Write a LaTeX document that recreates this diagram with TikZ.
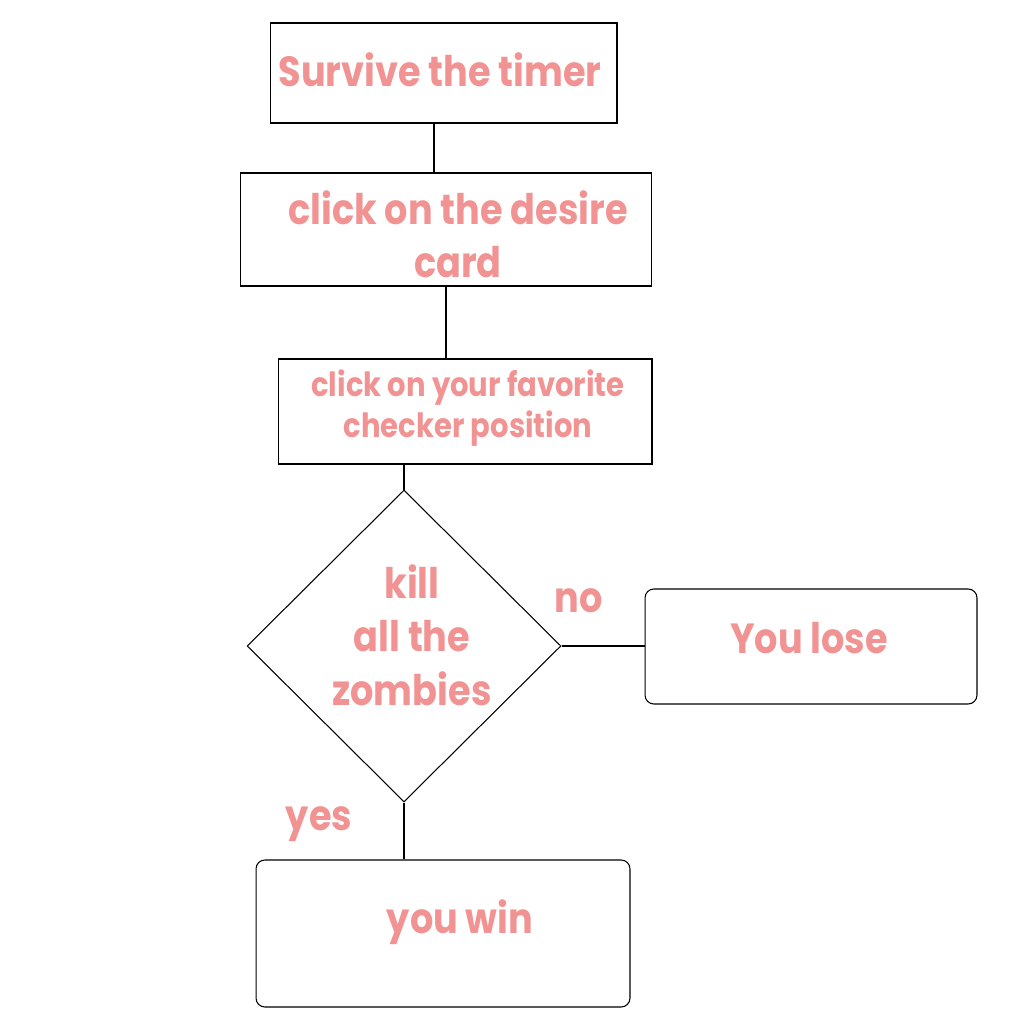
\documentclass[tikz,border=0pt]{standalone}
\usepackage{fontspec}
\usetikzlibrary{shapes.geometric}
\newfontfamily\zfont{Poppins}[FakeStretch=0.87]
\definecolor{zpink}{RGB}{241,147,147}
\begin{document}
\begin{tikzpicture}
	[x=0.02cm, y=-0.02cm,
	box/.style={draw, line width=0.6pt, inner sep=0pt},
	rbox/.style={box, rounded corners=5pt},
	say/.style={text=zpink, font=\zfont\bfseries\fontsize{24}{30}\selectfont,
		align=center, inner sep=0pt, anchor=base},
	small say/.style={say, font=\zfont\bfseries\fontsize{19}{22.8}\selectfont},
	link/.style={line width=0.6pt}]
	\useasboundingbox (0,0) rectangle (1020,1020);
	% boxes
	\node[box, minimum width=6.94cm, minimum height=2cm] (timer) at (443.5,73) {};
	\node[box, minimum width=8.24cm, minimum height=2.26cm] (card) at (446,229.5) {};
	\node[box, minimum width=7.48cm, minimum height=2.1cm] (checker) at (465,411.5) {};
	\node[box, diamond, minimum width=6.28cm, minimum height=6.24cm] (kill) at (404,646) {};
	\node[rbox, minimum width=6.64cm, minimum height=2.3cm] (lose) at (811,646.5) {};
	\node[rbox, minimum width=7.48cm, minimum height=2.94cm] (win) at (443,933.5) {};
	% texts (base = last line)
	\node[say] (timertext) at (440,87) {Survive the timer};
	\node[say, font=\zfont\bfseries\fontsize{24}{29.6}\selectfont] (cardtext) at (458,277) {click on the desire\\card};
	\node[small say] (checkertext) at (468,437) {click on your favorite\\checker position};
	\node[say, font=\zfont\bfseries\fontsize{24}{30.4}\selectfont] (killtext) at (412,705) {kill\\all the\\zombies};
	\node[say] (losetext) at (809,653) {You lose};
	\node[say] (wintext) at (460,933) {you win};
	\node[say] (no) at (579,612) {no};
	\node[say] (yes) at (319,830) {yes};
	% connectors
	\path ([xshift=-0.19cm]timer.south) coordinate (down1);
	\draw[link] (down1) -- (down1 |- card.north);
	\draw[link] (card.south) -- (card.south |- checker.north);
	\draw[link] (kill.north) -- (kill.north |- checker.south);
	\draw[link] (kill.east) -- (kill.east -| lose.west);
	\draw[link] (kill.south) -- (kill.south |- win.north);
\end{tikzpicture}
\end{document}
